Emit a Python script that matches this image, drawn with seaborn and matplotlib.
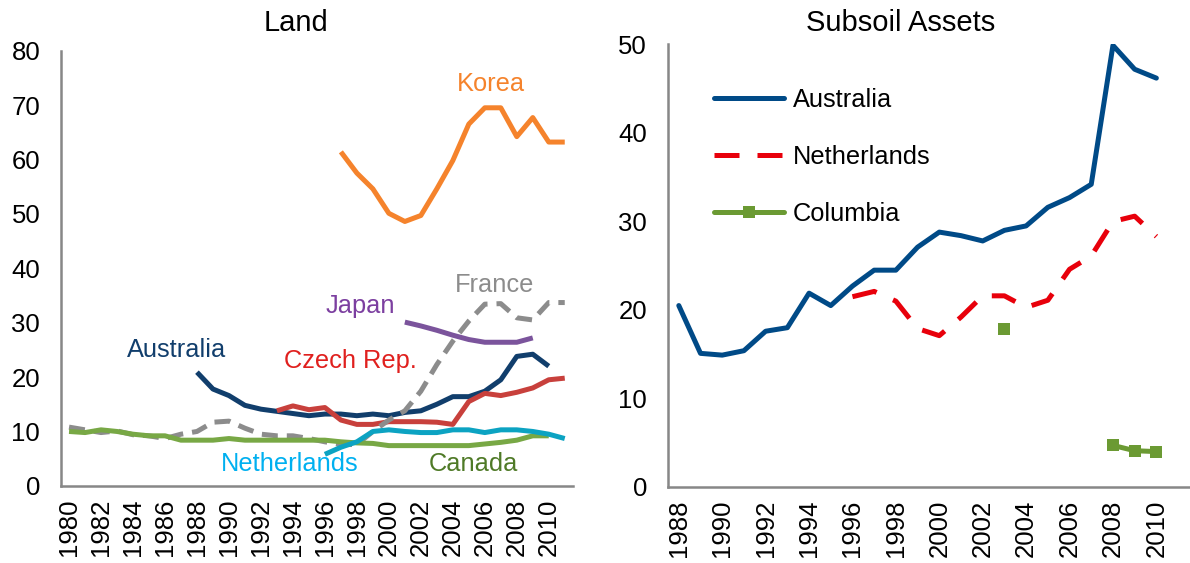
import numpy as np
import pandas as pd
import matplotlib
matplotlib.use("Agg")
import matplotlib.pyplot as plt
import seaborn as sns

# ---------- Land (left panel) ----------
land_korea_years = list(range(1997, 2012))
land_korea = [61.4, 57.5, 54.6, 50.1, 48.6, 49.7, 54.6, 59.8, 66.5, 69.5, 69.5, 64.2, 67.7, 63.2, 63.2]

land_australia_years = list(range(1988, 2011))
land_australia = [20.9, 17.8, 16.6, 14.8, 14.1, 13.7, 13.3, 12.9, 13.2, 13.2, 12.9, 13.2, 12.9,
                  13.5, 13.8, 15.0, 16.4, 16.4, 17.4, 19.5, 23.8, 24.2, 22.0]

land_czech_years = list(range(1993, 2012))
land_czech = [13.8, 14.7, 14.0, 14.4, 12.1, 11.3, 11.3, 11.8, 11.8, 11.8, 11.7, 11.3, 15.5,
              17.0, 16.6, 17.2, 18.0, 19.5, 19.8]

land_japan_years = list(range(2001, 2010))
land_japan = [30.1, 29.4, 28.6, 27.7, 26.9, 26.4, 26.4, 26.4, 27.2]

land_france_years = list(range(1980, 2012))
land_france = [10.8, 10.3, 9.8, 10.1, 9.4, 9.2, 8.7, 9.5, 10.0, 11.7, 11.9, 10.6, 9.5, 9.2, 9.2, 8.7,
               8.1, 7.6, 7.6, 10.0, 12.1, 13.8, 17.4, 22.3, 26.6, 30.3, 33.4, 33.5, 30.9, 30.5, 33.7, 33.7]

land_netherlands_years = list(range(1996, 2012))
land_netherlands = [5.8, 7.1, 8.1, 10.0, 10.3, 10.0, 9.8, 9.8, 10.3, 10.3, 9.8, 10.3, 10.3, 10.0, 9.5, 8.7]

land_canada_years = list(range(1980, 2011))
land_canada = [10.0, 9.8, 10.3, 10.0, 9.5, 9.2, 9.2, 8.4, 8.4, 8.4, 8.7, 8.4, 8.4, 8.4, 8.4, 8.4,
               8.4, 8.1, 7.9, 7.8, 7.4, 7.4, 7.4, 7.4, 7.4, 7.4, 7.7, 8.0, 8.4, 9.2, 9.2]

# ---------- Subsoil assets (right panel) ----------
sub_australia_years = list(range(1988, 2011))
sub_australia = [20.5, 15.1, 14.9, 15.4, 17.6, 18.0, 21.9, 20.5, 22.7, 24.5, 24.5, 27.1, 28.8,
                 28.4, 27.8, 29.0, 29.5, 31.6, 32.7, 34.2, 49.9, 47.2, 46.2]

sub_netherlands_years = list(range(1996, 2011))
sub_netherlands = [21.5, 22.1, 21.0, 17.9, 17.1, 19.2, 21.6, 21.6, 20.3, 21.1, 24.6, 26.1, 30.0, 30.6, 28.3]

sub_columbia_years = [2003, 2008, 2009, 2010]
sub_columbia = [17.8, 4.7, 4.1, 4.0]
sub_columbia_segment = [0, 1, 1, 1]

# label text for the left panel: (name, x year, y value)
land_labels = [
    ("Korea", 2006.4, 73.9),
    ("France", 2006.6, 37.0),
    ("Japan", 1998.2, 33.0),
    ("Australia", 1986.7, 24.9),
    ("Czech Rep.", 1997.6, 23.0),
    ("Netherlands", 1993.8, 4.1),
    ("Canada", 2005.3, 4.1),
]

sns.set_style("white")
plt.rcParams["font.family"] = ["Liberation Sans", "DejaVu Sans"]
plt.rcParams["text.color"] = "black"
FS = 18.3
TICK_FS = 18.5
GREY = "#878787"

fig = plt.figure(figsize=(11.9, 5.63), dpi=100)
ax1 = fig.add_axes([0.0513, 0.137, 0.430, 0.773])
ax2 = fig.add_axes([0.5613, 0.135, 0.4378, 0.786])

LW = 3.6
land_series = [
    (land_korea_years, land_korea, "#F5832C", "-"),
    (land_australia_years, land_australia, "#113E6C", "-"),
    (land_czech_years, land_czech, "#C8403C", "-"),
    (land_japan_years, land_japan, "#7B549C", "-"),
    (land_france_years, land_france, "#8C8C8C", (0, (3.2, 1.8))),
    (land_canada_years, land_canada, "#78A845", "-"),
    (land_netherlands_years, land_netherlands, "#0CA3C2", "-"),
]
for yrs, vals, col, ls in land_series:
    df = pd.DataFrame({"year": yrs, "value": vals})
    sns.lineplot(data=df, x="year", y="value", ax=ax1, color=col, lw=LW,
                 linestyle=ls, solid_capstyle="butt", dash_capstyle="butt")

label_colors = {
    "Korea": "#F5832C", "France": "#8C8C8C", "Japan": "#7C3FA0",
    "Australia": "#113E6C", "Czech Rep.": "#E0201E",
    "Netherlands": "#00B0F0", "Canada": "#4F7A27",
}
for name, x, y in land_labels:
    ax1.text(x, y, name, color=label_colors[name], fontsize=FS, ha="center", va="center")

# ---------- right ----------
sns.lineplot(x=sub_australia_years, y=sub_australia, ax=ax2, color="#004A87", lw=LW,
             label="Australia")
sns.lineplot(x=sub_netherlands_years, y=sub_netherlands, ax=ax2, color="#E8000B", lw=LW,
             linestyle=(0, (5, 3.6)), label="Netherlands")
col_df = pd.DataFrame({"year": sub_columbia_years, "value": sub_columbia, "seg": sub_columbia_segment})
sns.lineplot(data=col_df, x="year", y="value", units="seg", estimator=None, ax=ax2,
             color="#6B9A33", lw=LW, marker="s", markersize=9, markeredgewidth=0,
             label="Columbia")

handles, labels = ax2.get_legend_handles_labels()
uniq = dict(zip(labels, handles))
ax2.legend(uniq.values(), uniq.keys(), loc="upper left", bbox_to_anchor=(0.088, 0.902),
           frameon=False, fontsize=FS, labelspacing=1.3, handlelength=2.75,
           handletextpad=0.35, borderpad=0, borderaxespad=0, labelcolor="black")

# ---------- axes styling ----------
def style(ax, first, last, ymax, ystep):
    ax.set_xlim(first - 0.5, last + 0.5)
    ax.set_ylim(0, ymax)
    ax.set_yticks(np.arange(0, ymax + 1, ystep))
    ax.set_xticks(np.arange(first, last + 1, 2))
    ax.set_xticks(np.arange(first - 0.5, last + 1, 1), minor=True)
    ax.tick_params(axis="x", which="major", length=0, pad=9, labelsize=TICK_FS,
                   labelrotation=90, labelcolor="black")
    ax.tick_params(axis="x", which="minor", length=8, width=1.5, color=GREY, direction="out")
    ax.tick_params(axis="y", length=7, width=1.5, color=GREY, direction="out",
                   labelsize=TICK_FS, pad=8, labelcolor="black")
    for s in ["top", "right"]:
        ax.spines[s].set_visible(False)
    for s in ["left", "bottom"]:
        ax.spines[s].set_color(GREY)
        ax.spines[s].set_linewidth(1.8)
    ax.set_xlabel("")
    ax.set_ylabel("")
    ax.grid(False)

style(ax1, 1980, 2011, 80, 10)
style(ax2, 1988, 2011, 50, 10)
ax2.set_xticks(np.arange(1988, 2011, 2))

fig.text(0.249, 0.960, "Land", fontsize=21, ha="center", va="center", color="black")
fig.text(0.757, 0.960, "Subsoil Assets", fontsize=21, ha="center", va="center", color="black")

fig.savefig("out.png", dpi=100)
